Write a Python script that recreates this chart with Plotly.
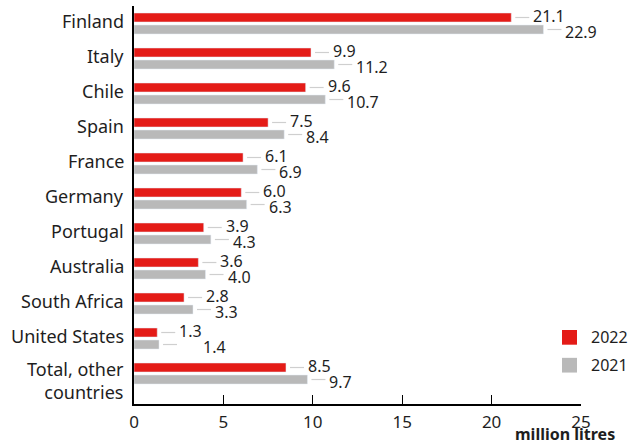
import plotly.graph_objects as go

# Categories and series values (million litres)
countries = ["Finland", "Italy", "Chile", "Spain", "France", "Germany",
             "Portugal", "Australia", "South Africa", "United States",
             "Total, other<br>countries"]
values_2022 = [21.1, 9.9, 9.6, 7.5, 6.1, 6.0, 3.9, 3.6, 2.8, 1.3, 8.5]
values_2021 = [22.9, 11.2, 10.7, 8.4, 6.9, 6.3, 4.3, 4.0, 3.3, 1.4, 9.7]
x_ticks = [0, 5, 10, 15, 20, 25]
series_names = ["2022", "2021"]

RED = "#e41b17"
GREY = "#b9b9b9"
LEADER = "#cfcfcf"
TEXT = "#1e1e1e"
FONT = "Noto Sans"

fig = go.Figure()
fig.add_trace(go.Bar(y=countries, x=values_2022, orientation="h",
                     name=series_names[0], marker_color=RED,
                     hoverinfo="skip"))
fig.add_trace(go.Bar(y=countries, x=values_2021, orientation="h",
                     name=series_names[1], marker_color=GREY,
                     hoverinfo="skip"))

# Bar geometry within a category band (fractions of one category unit)
bargap = 0.314
bargroupgap = 0.25
group_w = 1 - bargap
slot = group_w / 2
offset = slot / 2  # centre of each bar relative to category centre

# Category names, right-aligned against the value axis
for i, name in enumerate(countries):
    multi = "<br>" in name
    fig.add_annotation(x=0, y=i, xref="paper", yref="y", text=name,
                       showarrow=False, xanchor="right", align="right",
                       yanchor="middle", xshift=-8,
                       yshift=-7 if multi else 3,
                       font=dict(family=FONT, size=18, color=TEXT))

# Value labels with short leader lines
for i, (a, b) in enumerate(zip(values_2022, values_2021)):
    for val, dy, extra, lift in ((a, -offset, 0, 2),
                                 (b, offset, 22 if abs(a - b) < 0.2 else 0,
                                  -2)):
        yc = i + dy
        fig.add_shape(type="line", xref="x", yref="y",
                      xsizemode="pixel", xanchor=val, x0=4, x1=18,
                      y0=yc, y1=yc, line=dict(color=LEADER, width=1.2))
        fig.add_annotation(x=val, y=yc, xref="x", yref="y",
                           text=f"{val:.1f}", showarrow=False,
                           xanchor="left", yanchor="middle",
                           xshift=20 + extra, yshift=lift,
                           font=dict(family=FONT, size=16, color=TEXT))

# Legend drawn as swatches beside the lower right corner of the plot
for name, color, y_top in ((series_names[0], RED, 0.186),
                           (series_names[1], GREY, 0.116)):
    fig.add_shape(type="rect", xref="paper", yref="paper",
                  x0=0.9575, x1=0.991, y0=y_top - 0.037, y1=y_top,
                  fillcolor=color, line=dict(width=0))
    fig.add_annotation(x=1.018, y=y_top - 0.0185, xref="paper", yref="paper",
                       text=name, showarrow=False, xanchor="left",
                       yanchor="middle",
                       font=dict(family=FONT, size=16, color=TEXT))

# Axis unit label
fig.add_annotation(x=1.081, y=-0.108, xref="paper", yref="paper",
                   text="<b>million litres</b>", showarrow=False,
                   xanchor="right", yanchor="bottom",
                   font=dict(family=FONT, size=16, color=TEXT))

fig.update_layout(
    width=630, height=447,
    margin=dict(l=134, r=49, t=6, b=43),
    paper_bgcolor="white", plot_bgcolor="white",
    barmode="group", bargap=bargap, bargroupgap=bargroupgap,
    font=dict(family=FONT, color=TEXT),
    showlegend=False,
    xaxis=dict(range=[0, 25], tickvals=x_ticks, showgrid=False,
               zeroline=False, showline=True, linecolor="black",
               linewidth=1.5, ticks="inside", ticklen=9,
               tickcolor="black", tickwidth=1.2, ticklabelstandoff=2,
               tickfont=dict(family=FONT, size=17, color=TEXT)),
    yaxis=dict(range=[10.871, -0.5], showgrid=False, zeroline=False,
               showline=True, linecolor="black", linewidth=1.5,
               ticks="", showticklabels=False),
)

fig.write_html("out.html")
